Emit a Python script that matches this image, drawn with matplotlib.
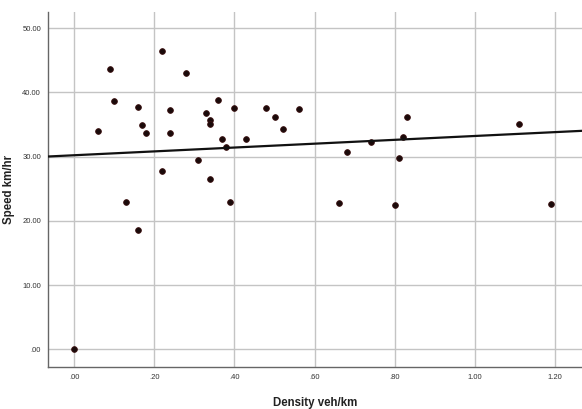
import numpy as np
import matplotlib.pyplot as plt

# values
density = [0.00, 0.06, 0.09, 0.10, 0.13, 0.16, 0.16, 0.17, 0.18, 0.22,
           0.22, 0.24, 0.24, 0.28, 0.31, 0.33, 0.34, 0.34, 0.34, 0.36,
           0.37, 0.38, 0.39, 0.40, 0.43, 0.48, 0.50, 0.52, 0.56, 0.66,
           0.68, 0.74, 0.80, 0.81, 0.82, 0.83, 1.11, 1.19]
speed = [0.0, 33.9, 43.7, 38.7, 22.9, 37.7, 18.6, 34.9, 33.6, 46.5,
         27.8, 37.2, 33.6, 43.0, 29.4, 36.8, 35.7, 35.1, 26.5, 38.8,
         32.8, 31.5, 22.9, 37.5, 32.8, 37.6, 36.1, 34.3, 37.4, 22.7,
         30.7, 32.2, 22.4, 29.75, 33.0, 36.2, 35.1, 22.6]

# fit line as shown in the reference (intercept, slope)
fit_intercept = 30.2
fit_slope = 3.0

x_ticks = [0.0, 0.2, 0.4, 0.6, 0.8, 1.0, 1.2]
x_labels = ['.00', '.20', '.40', '.60', '.80', '1.00', '1.20']
y_ticks = [0, 10, 20, 30, 40, 50]
y_labels = ['.00', '10.00', '20.00', '30.00', '40.00', '50.00']

plt.rcParams['font.family'] = ['Liberation Sans', 'DejaVu Sans']

fig = plt.figure(figsize=(5.82, 4.09), dpi=100)
ax = fig.add_axes([0.0825, 0.1027, 0.9175, 0.868])

ax.set_xlim(-0.065, 1.267)
ax.set_ylim(-2.76, 52.5)
ax.set_xticks(x_ticks)
ax.set_xticklabels(x_labels)
ax.set_yticks(y_ticks)
ax.set_yticklabels(y_labels)
ax.tick_params(length=0, labelsize=5.5, colors='#333333', pad=5)
ax.grid(True, color='#c4c4c4', linewidth=1.0)
ax.set_axisbelow(True)

for s in ['top', 'right']:
    ax.spines[s].set_visible(False)
for s in ['left', 'bottom']:
    ax.spines[s].set_color('#666666')
    ax.spines[s].set_linewidth(1.0)

ax.scatter(density, speed, s=17, color='#1a0a0a', edgecolors='#3a0f0f',
           linewidths=0.6, zorder=3)

xx = np.array(ax.get_xlim())
ax.plot(xx, fit_intercept + fit_slope * xx, color='#111111', linewidth=1.6, zorder=4)

ax.set_xlabel('Density veh/km', fontsize=8.3, fontweight='bold', color='#222222')
ax.set_ylabel('Speed km/hr', fontsize=8.3, fontweight='bold', color='#222222')
ax.xaxis.set_label_coords(0.5, -0.085)
ax.yaxis.set_label_coords(-0.061, 0.5)

fig.savefig('out.png', dpi=100)
